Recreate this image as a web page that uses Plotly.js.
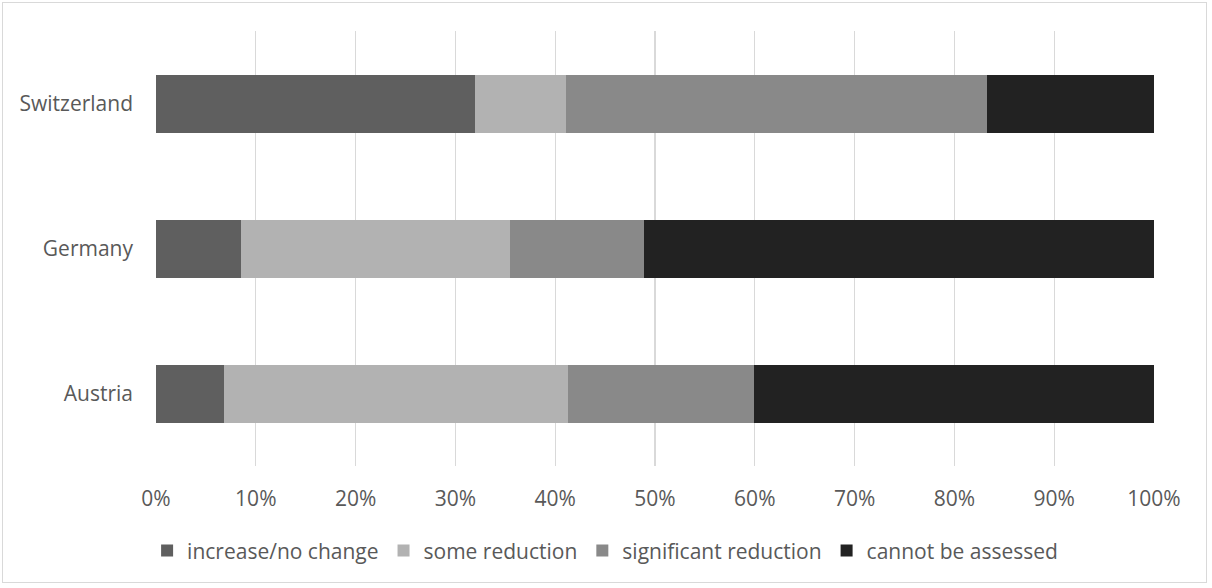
<!DOCTYPE html>
<html>
<head>
<meta charset="utf-8">
<script src="https://cdn.plot.ly/plotly-3.0.1.min.js"></script>
<style>
  html, body { margin: 0; padding: 0; background: #fff; }
  #wrap { position: relative; width: 1212px; height: 588px; }
  #frame { position: absolute; left: 2px; top: 2px; width: 1205px; height: 581px; border: 1px solid #d9d9d9; box-sizing: border-box; pointer-events: none; }
  #chart { width: 1212px; height: 588px; }
</style>
</head>
<body>
<div id="wrap">
  <div id="chart"></div>
  <div id="frame"></div>
</div>
<script>
const countries = ["Austria", "Germany", "Switzerland"];
const seriesNames = ["increase/no change", "some reduction", "significant reduction", "cannot be assessed"];
const increaseNoChange = [6.8, 8.5, 32.0];
const someReduction = [34.5, 27.0, 9.1];
const significantReduction = [18.6, 13.4, 42.2];
const cannotBeAssessed = [40.1, 51.1, 16.7];
const xTickValues = [0, 10, 20, 30, 40, 50, 60, 70, 80, 90, 100];
const xTickLabels = ["0%", "10%", "20%", "30%", "40%", "50%", "60%", "70%", "80%", "90%", "100%"];

const colors = ["#5f5f5f", "#b2b2b2", "#898989", "#222222"];
const allSeries = [increaseNoChange, someReduction, significantReduction, cannotBeAssessed];

const traces = allSeries.map((vals, i) => ({
  type: "bar",
  orientation: "h",
  name: seriesNames[i],
  y: countries,
  x: vals,
  marker: { color: colors[i], line: { width: 0 } },
  hoverinfo: "x+y+name"
}));

const fontFam = "'Open Sans', sans-serif";
const fs = 21;
const layout = {
  width: 1212,
  height: 588,
  barmode: "stack",
  bargap: 0.6,
  paper_bgcolor: "#ffffff",
  plot_bgcolor: "#ffffff",
  margin: { l: 156, r: 58, t: 31, b: 122 },
  font: { family: fontFam, size: fs, color: "#595959" },
  xaxis: {
    range: [0, 100],
    tickvals: xTickValues,
    ticktext: xTickLabels,
    showgrid: true,
    gridcolor: "#d9d9d9",
    gridwidth: 1.3,
    zeroline: false,
    showline: false,
    ticks: "",
    ticklabelstandoff: 18,
    tickfont: { family: fontFam, size: fs, color: "#595959" },
    fixedrange: true
  },
  yaxis: {
    type: "category",
    categoryorder: "array",
    categoryarray: countries,
    showgrid: false,
    zeroline: false,
    showline: false,
    ticks: "",
    ticklabelstandoff: 22,
    tickfont: { family: fontFam, size: fs, color: "#595959" },
    fixedrange: true
  },
  showlegend: true,
  legend: {
    orientation: "h",
    x: 0.45,
    xanchor: "center",
    y: -0.195,
    yanchor: "middle",
    traceorder: "normal",
    font: { family: fontFam, size: fs, color: "#595959" },
    itemwidth: 30,
    tracegroupgap: 0
  }
};

Plotly.newPlot("chart", traces, layout, { displayModeBar: false, staticPlot: true });
</script>
</body>
</html>
